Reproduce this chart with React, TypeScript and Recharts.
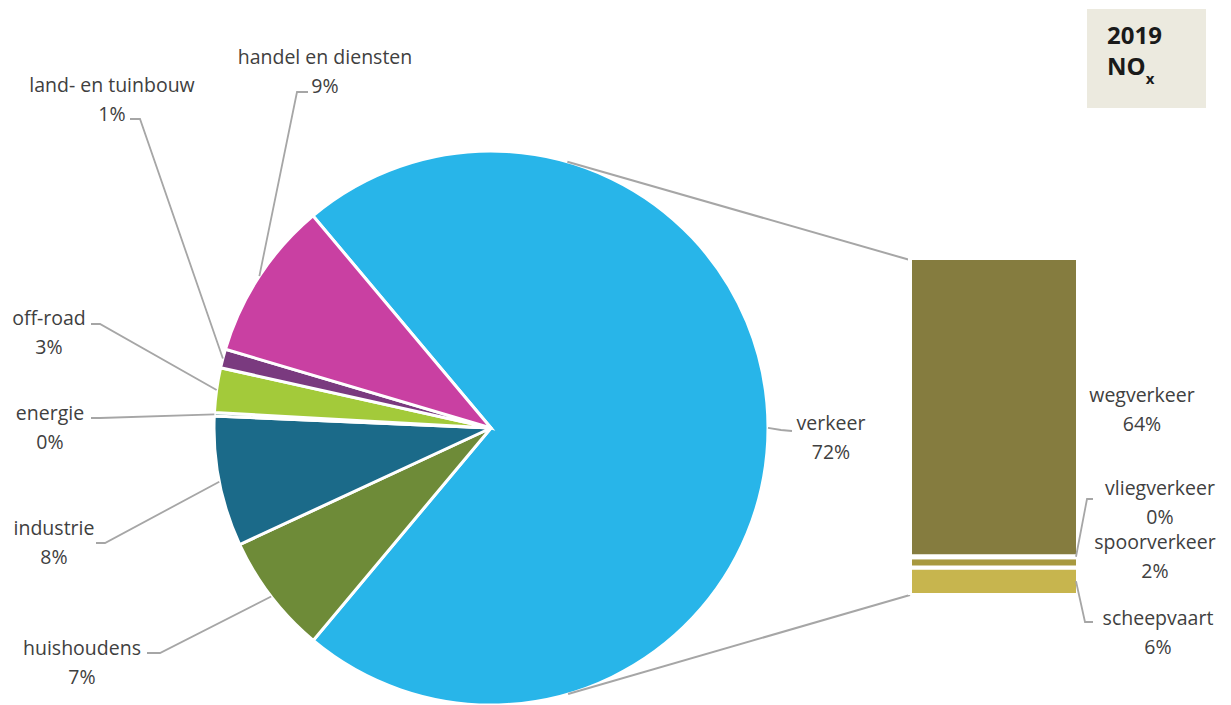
import { PieChart, Pie, Cell, BarChart, Bar, XAxis, YAxis, LabelList } from "recharts";

// NOx 2019, share per sector (%), verkeer split out in the bar
const SLICE_NAMES = [
  "verkeer",
  "huishoudens",
  "industrie",
  "energie",
  "off-road",
  "land- en tuinbouw",
  "handel en diensten",
];
const SLICE_VALUES = [72.2, 7.0, 7.6, 0.2, 2.6, 1.1, 9.3];
const SLICE_COLORS = ["#28B5E9", "#6E8B38", "#1B6A89", "#2F7D6B", "#A3CA3A", "#7A3A7F", "#C940A2"];

const SUB_NAMES = ["wegverkeer", "vliegverkeer", "spoorverkeer", "scheepvaart"];
const SUB_VALUES = [63.9, 0.2, 2.2, 5.9];
const SUB_COLORS = ["#857C3F", "#9C8F3F", "#A8993F", "#C7B54E"];

const TITLE_YEAR = "2019";
const TITLE_SUBSTANCE = "NO";
const TITLE_SUB = "x";

const W = 1231;
const H = 705;
const FONT = "'Open Sans', 'Noto Sans', sans-serif";
const FONT_SIZE = 19.5;
const LINE_GAP = 28.5;
const TEXT = "#404040";
const LEADER = "#A6A6A6";

const PIE_CX = 491;
const PIE_CY = 428;
const PIE_R = 277;
const BAR_LEFT = 910;
const BAR_RIGHT = 1078;
const BAR_TOP = 258;
const BAR_BOTTOM = 595;

type LabelPos = { tx: number; ty: number; elbow?: [number, number]; end?: [number, number] };

// label placement (text centre x, first line y, leader elbow + end)
const PIE_LABELS: Record<string, LabelPos> = {
  verkeer: { tx: 831, ty: 423, elbow: [781, 430], end: [792, 431] },
  huishoudens: { tx: 82, ty: 648, elbow: [160, 653], end: [147, 653] },
  industrie: { tx: 54, ty: 528, elbow: [105, 543], end: [96, 543] },
  energie: { tx: 50, ty: 413, elbow: [100, 418], end: [91, 418] },
  "off-road": { tx: 49, ty: 318, elbow: [100, 324], end: [91, 324] },
  "land- en tuinbouw": { tx: 112, ty: 85, elbow: [140, 119], end: [130, 119] },
  "handel en diensten": { tx: 325, ty: 57, elbow: [297, 92], end: [308, 92] },
};

const SUB_LABELS: Record<string, LabelPos> = {
  wegverkeer: { tx: 1142, ty: 395 },
  vliegverkeer: { tx: 1160, ty: 488, elbow: [1087, 499], end: [1093, 499] },
  spoorverkeer: { tx: 1155, ty: 542 },
  scheepvaart: { tx: 1158, ty: 618, elbow: [1085, 622], end: [1093, 622] },
};

const pct = (v: number) => `${Math.round(v)}%`;

const pieData = SLICE_NAMES.map((name, i) => ({ name, value: SLICE_VALUES[i] }));
const subRow: Record<string, number | string> = { name: "verkeer" };
SUB_NAMES.forEach((n, i) => (subRow[n] = SUB_VALUES[i]));
const SUB_TOTAL = SUB_VALUES.reduce((a, b) => a + b, 0);

function TwoLines({ x, y, a, b }: { x: number; y: number; a: string; b: string }) {
  return (
    <text textAnchor="middle" fontFamily={FONT} fontSize={FONT_SIZE} fill={TEXT}>
      <tspan x={x} y={y + 7}>{a}</tspan>
      <tspan x={x} y={y + 7 + LINE_GAP}>{b}</tspan>
    </text>
  );
}

function Leader({ sx, sy, pos }: { sx: number; sy: number; pos: LabelPos }) {
  if (!pos.elbow || !pos.end) return null;
  return (
    <polyline
      points={`${sx},${sy} ${pos.elbow[0]},${pos.elbow[1]} ${pos.end[0]},${pos.end[1]}`}
      fill="none"
      stroke={LEADER}
      strokeWidth={1.8}
    />
  );
}

const renderPieLabel = (props: any) => {
  const { cx, cy, midAngle, outerRadius, index } = props;
  const name = SLICE_NAMES[index];
  const pos = PIE_LABELS[name];
  const rad = (-midAngle * Math.PI) / 180;
  const sx = cx + outerRadius * Math.cos(rad);
  const sy = cy + outerRadius * Math.sin(rad);
  return (
    <g key={`pl-${name}`}>
      <Leader sx={sx} sy={sy} pos={pos} />
      <TwoLines x={pos.tx} y={pos.ty} a={name} b={pct(SLICE_VALUES[index])} />
    </g>
  );
};

const subLabel = (name: string, value: number) => (props: any) => {
  const vb = props.viewBox ?? props;
  const x = Number(vb.x);
  const y = Number(vb.y);
  const w = Number(vb.width);
  const h = Number(vb.height);
  const pos = SUB_LABELS[name];
  return (
    <g key={`sl-${name}`}>
      <Leader sx={x + w - 2} sy={y + h / 2} pos={pos} />
      <TwoLines x={pos.tx} y={pos.ty} a={name} b={pct(value)} />
    </g>
  );
};

// tangent from a bar corner to the pie circle
function tangent(px: number, py: number, side: number) {
  const dx = px - PIE_CX;
  const dy = PIE_CY - py;
  const d = Math.hypot(dx, dy);
  const t = Math.atan2(dy, dx) + side * Math.acos(PIE_R / d);
  return [PIE_CX + PIE_R * Math.cos(t), PIE_CY - PIE_R * Math.sin(t)];
}

export default function App() {
  const top = tangent(BAR_LEFT, BAR_TOP + 2, 1);
  const bottom = tangent(BAR_LEFT, BAR_BOTTOM, -1);
  const stackOrder = [...SUB_NAMES].reverse();

  return (
    <div style={{ position: "absolute", left: 0, top: 0, width: W, height: H, background: "#fff" }}>
      <div style={{ position: "absolute", left: 0, top: 0 }}>
        <PieChart width={W} height={H} margin={{ top: 0, right: 0, bottom: 0, left: 0 }}>
          <Pie
            data={pieData}
            dataKey="value"
            nameKey="name"
            cx={PIE_CX}
            cy={PIE_CY}
            outerRadius={PIE_R}
            startAngle={130}
            endAngle={-230}
            stroke="#ffffff"
            strokeWidth={3}
            label={renderPieLabel}
            labelLine={false}
            isAnimationActive={false}
          >
            {pieData.map((d, i) => (
              <Cell key={d.name} fill={SLICE_COLORS[i]} />
            ))}
          </Pie>
        </PieChart>
      </div>

      <svg width={W} height={H} style={{ position: "absolute", left: 0, top: 0 }}>
        <line x1={top[0]} y1={top[1]} x2={BAR_LEFT} y2={BAR_TOP + 2} stroke={LEADER} strokeWidth={2} />
        <line x1={bottom[0]} y1={bottom[1]} x2={BAR_LEFT} y2={BAR_BOTTOM} stroke={LEADER} strokeWidth={2} />
        <rect x={1087} y={9} width={119} height={99} fill="#ECEADF" />
        <text x={1107} y={44} fontFamily={FONT} fontSize={24} fontWeight={700} fill="#1A1A1A">
          {TITLE_YEAR}
        </text>
        <text x={1107} y={75} fontFamily={FONT} fontSize={24} fontWeight={700} fill="#1A1A1A">
          {TITLE_SUBSTANCE}
          <tspan fontSize={15} dy={9}>
            {TITLE_SUB}
          </tspan>
        </text>
      </svg>

      <div style={{ position: "absolute", left: 0, top: 0 }}>
        <BarChart
          width={W}
          height={H}
          data={[subRow]}
          margin={{ top: BAR_TOP, right: W - BAR_RIGHT, bottom: H - BAR_BOTTOM, left: BAR_LEFT }}
          barCategoryGap={0}
        >
          <XAxis dataKey="name" hide />
          <YAxis hide domain={[0, SUB_TOTAL]} allowDataOverflow />
          {stackOrder.map((n) => {
            const i = SUB_NAMES.indexOf(n);
            return (
              <Bar
                key={n}
                dataKey={n}
                stackId="verkeer"
                fill={SUB_COLORS[i]}
                stroke="#ffffff"
                strokeWidth={4}
                isAnimationActive={false}
              >
                <LabelList dataKey={n} content={subLabel(n, SUB_VALUES[i])} />
              </Bar>
            );
          })}
        </BarChart>
      </div>
    </div>
  );
}
